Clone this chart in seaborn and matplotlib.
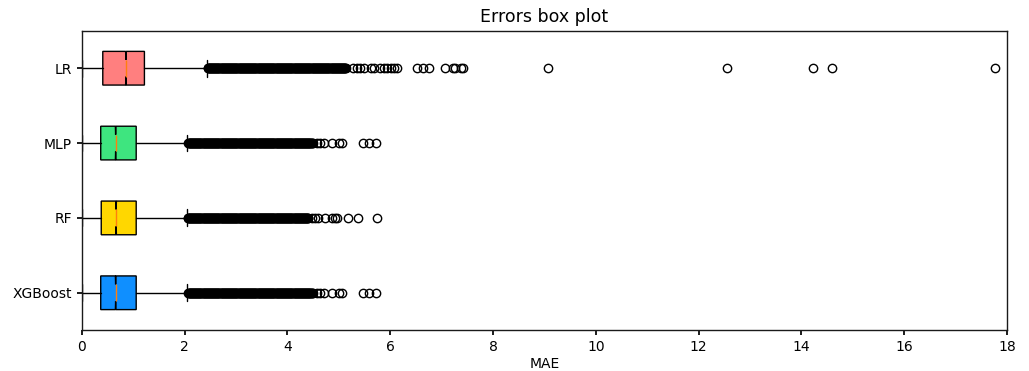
import numpy as np
import matplotlib
matplotlib.use("Agg")
import matplotlib.pyplot as plt
import seaborn as sns

# Models, listed top to bottom
models = ["LR", "MLP", "RF", "XGBoost"]
box_colors = ["#ff7f7f", "#3ee57f", "#ffd700", "#0f8fff"]

# Summary statistics of the absolute errors per model
q1 = [0.41, 0.37, 0.38, 0.37]
median = [0.86, 0.66, 0.67, 0.66]
q3 = [1.22, 1.06, 1.06, 1.06]
whisker_lo = [0.0, 0.0, 0.0, 0.0]
whisker_hi = [2.43, 2.05, 2.04, 2.05]
notch_half = [0.006, 0.005, 0.005, 0.005]

# Stretch of densely packed outliers right after the upper whisker
dense_from = [2.45, 2.07, 2.06, 2.07]
dense_to = [5.15, 4.50, 4.42, 4.50]
dense_step = 0.01

# Individually visible outliers beyond the dense stretch
sparse_fliers = [
    [5.28, 5.35, 5.42, 5.50, 5.62, 5.68, 5.80, 5.88, 5.93, 6.02, 6.08, 6.13,
     6.52, 6.63, 6.76, 7.07, 7.22, 7.26, 7.38, 7.41, 9.07, 12.56, 14.22,
     14.60, 17.77],
    [4.58, 4.64, 4.72, 4.87, 5.01, 5.07, 5.47, 5.58, 5.73],
    [4.48, 4.54, 4.60, 4.74, 4.86, 4.92, 4.97, 5.18, 5.37, 5.74],
    [4.58, 4.64, 4.72, 4.87, 5.01, 5.07, 5.47, 5.58, 5.73],
]

sns.set_theme(style="ticks", context="notebook")
plt.rcParams.update({
    "font.family": ["DejaVu Sans"],
    "font.size": 10,
    "axes.titlesize": 12,
    "axes.labelsize": 10,
    "xtick.labelsize": 10,
    "ytick.labelsize": 10,
    "text.color": "black",
    "axes.labelcolor": "black",
    "xtick.color": "black",
    "ytick.color": "black",
    "axes.edgecolor": "0.1",
    "axes.linewidth": 1.0,
    "xtick.major.size": 3.5,
    "ytick.major.size": 3.5,
})

stats = []
for i, name in enumerate(models):
    dense = np.arange(dense_from[i], dense_to[i], dense_step)
    stats.append({
        "label": name,
        "q1": q1[i],
        "med": median[i],
        "q3": q3[i],
        "whislo": whisker_lo[i],
        "whishi": whisker_hi[i],
        "cilo": median[i] - notch_half[i],
        "cihi": median[i] + notch_half[i],
        "fliers": np.concatenate([dense, sparse_fliers[i]]),
    })
# Bottom to top on the y axis
stats = stats[::-1]
colors = box_colors[::-1]

fig = plt.figure(figsize=(10.29, 3.71), dpi=100)
ax = fig.add_axes([0.0794, 0.11, 0.8993, 0.807])

bp = ax.bxp(
    stats,
    vert=False,
    shownotches=True,
    patch_artist=True,
    widths=0.45,
    boxprops=dict(edgecolor="black", linewidth=1.0),
    whiskerprops=dict(color="black", linewidth=1.0),
    capprops=dict(color="black", linewidth=1.0),
    medianprops=dict(color="#ff7f0e", linewidth=1.0),
    flierprops=dict(marker="o", markersize=6, markerfacecolor="none",
                    markeredgecolor="black", markeredgewidth=1.0),
)
for patch, c in zip(bp["boxes"], colors):
    patch.set_facecolor(c)

ax.set_xlim(0, 18)
ax.set_xticks(np.arange(0, 19, 2))
ax.set_title("Errors box plot", fontsize=12.5)
ax.set_xlabel("MAE", labelpad=2)
for side in ["top", "right"]:
    ax.spines[side].set_visible(True)

fig.savefig("out.png", dpi=100)
